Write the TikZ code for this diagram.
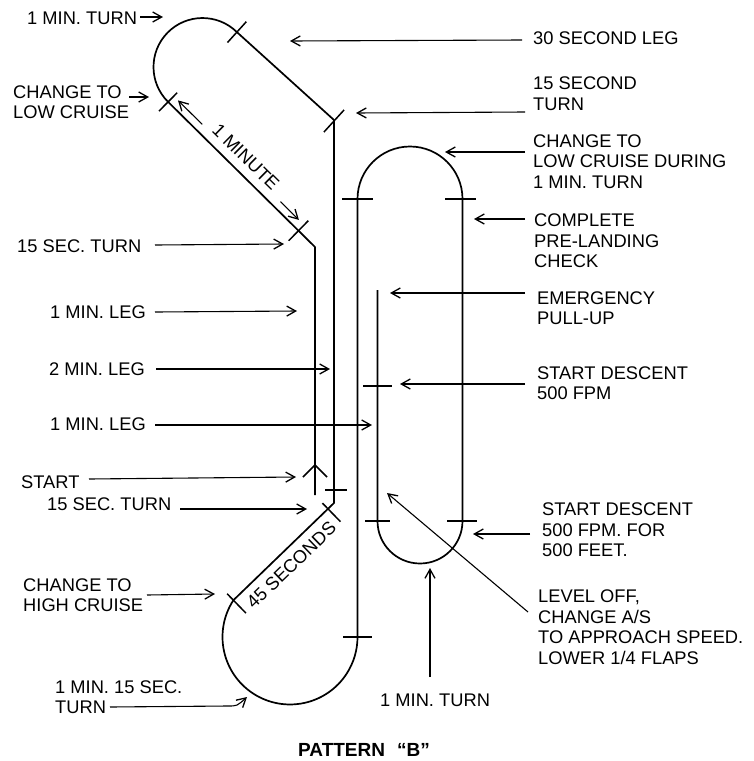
\documentclass[tikz,border=0pt]{standalone}
\usepackage{fontspec}
\setmainfont{Liberation Sans}
\usetikzlibrary{arrows.meta,calc}
\newcommand\lbfont{\fontsize{18.3}{20.5}\selectfont}
\begin{document}
\begin{tikzpicture}[x=1pt,y=1pt,
  track/.style={line width=1.7pt,line join=round},
  tickmark/.style={line width=1.5pt},
  lbl/.style={inner sep=0pt,anchor=west,align=left,font=\lbfont},
  ptr/.style={line width=1.1pt,-{Straight Barb[length=9pt,width=10pt,line width=1.3pt]}}]
\useasboundingbox (0,0) rectangle (753,-761);

% ---------------- flight path ----------------
\draw[track] (315,-495) -- (315,-247) -- (168.1,-101.9)
  arc[start angle=225.4,end angle=45.4,radius=49] -- (334,-120) -- (334,-503)
  -- (233.4,-600.2) arc[start angle=147,end angle=360,radius=67.5]
  -- (357.5,-199) arc[start angle=180,end angle=0,radius=52.5]
  -- (462.5,-521) arc[start angle=0,end angle=-180,radius=42.5]
  -- (377.5,-290);
% start chevron
\draw[track] (303,-477) -- (315,-465) -- (327,-477);

% horizontal ticks
\draw[tickmark] (325,-490) -- (347,-490);
\draw[tickmark] (342,-199) -- (373,-199);
\draw[tickmark] (445,-199) -- (476,-199);
\draw[tickmark] (363,-386) -- (392,-386);
\draw[tickmark] (365,-521) -- (390,-521);
\draw[tickmark] (447,-521) -- (477,-521);
\draw[tickmark] (343,-637) -- (372,-637);
% oblique ticks
\draw[tickmark] (227.5,-42.5) -- (246.3,-21.7);
\draw[tickmark] (323.9,-132.1) -- (344.1,-109.9);
\draw[tickmark] (159,-111.1) -- (177.2,-92.7);
\draw[tickmark] (288.7,-240.7) -- (308.3,-220.7);
\draw[tickmark] (322.4,-503.1) -- (340.5,-521.7);
\draw[tickmark] (227.1,-593.7) -- (245.9,-613.1);

% dimension labels
\coordinate (m1a) at (202.2,-124.3); \coordinate (m1b) at (178,-100.4);
\coordinate (m2a) at (280.4,-201.6); \coordinate (m2b) at (298.9,-219.9);
\draw[ptr] (m1a) -- (m1b);
\draw[ptr] (m2a) -- (m2b);
\node[font=\lbfont,rotate=-44.6,inner sep=0pt] (min1) at (245.8,-157.1) {1 MINUTE};
\node[font=\lbfont,rotate=44,inner sep=0pt] (sec45) at (291.3,-565.1) {45 SECONDS};

% ---------------- left labels ----------------
\node[lbl] (l1) at (27,-18) {1 MIN. TURN};
\node[lbl] (l2) at (13,-102) {CHANGE TO\\LOW CRUISE};
\node[lbl] (l3) at (17,-246) {15 SEC. TURN};
\node[lbl] (l4) at (50,-312) {1 MIN. LEG};
\node[lbl] (l5) at (49,-369) {2 MIN. LEG};
\node[lbl] (l6) at (50,-424) {1 MIN. LEG};
\node[lbl] (l7) at (21,-482) {START};
\node[lbl] (l8) at (47,-504) {15 SEC. TURN};
\node[lbl] (l9) at (23,-595) {CHANGE TO\\HIGH CRUISE};
\node[lbl] (l10) at (55,-697) {1 MIN. 15 SEC.\\TURN};

% ---------------- right labels ----------------
\node[lbl] (r1) at (533,-38) {30 SECOND LEG};
\node[lbl] (r2) at (533,-93.5) {15 SECOND\\TURN};
\node[lbl] (r3) at (533,-161.5) {CHANGE TO\\LOW CRUISE DURING\\1 MIN. TURN};
\node[lbl] (r4) at (534,-241) {COMPLETE\\PRE-LANDING\\CHECK};
\node[lbl] (r5) at (537,-308) {EMERGENCY\\PULL-UP};
\node[lbl] (r6) at (537,-383) {START DESCENT\\500 FPM};
\node[lbl] (r7) at (542,-530) {START DESCENT\\500 FPM. FOR\\500 FEET.};
\node[lbl] (r8) at (538,-627) {LEVEL OFF,\\CHANGE A/S\\TO APPROACH SPEED.\\LOWER 1/4 FLAPS};
\node[lbl] (b1) at (380,-700) {1 MIN. TURN};
\node[inner sep=0pt,anchor=west,font=\fontsize{19}{21}\selectfont\bfseries] (title) at (298,-750) {PATTERN\hspace{12pt}``B''};

% ---------------- pointer arrows ----------------
\coordinate (l1a) at (140,-17);  \coordinate (l1b) at (163,-17);
\coordinate (l2a) at (129,-97);  \coordinate (l2b) at (149,-97);
\coordinate (l3a) at (155,-245); \coordinate (l3b) at (284,-244);
\coordinate (l4a) at (155,-312); \coordinate (l4b) at (297,-311);
\coordinate (l5a) at (156,-369); \coordinate (l5b) at (330,-369);
\coordinate (l6a) at (155,-425); \coordinate (l6b) at (372,-425);
\coordinate (l7a) at (89,-479);  \coordinate (l7b) at (296,-477);
\coordinate (l8a) at (180,-509); \coordinate (l8b) at (307,-509);
\coordinate (l9a) at (147,-595); \coordinate (l9b) at (215,-594);
\coordinate (l10a) at (110,-707); \coordinate (l10b) at (247,-697);
\coordinate (r1a) at (522,-40);  \coordinate (r1b) at (290,-41);
\coordinate (r2a) at (525,-112); \coordinate (r2b) at (356,-113);
\coordinate (r3a) at (525,-152); \coordinate (r3b) at (445,-152);
\coordinate (r4a) at (525,-219); \coordinate (r4b) at (474,-219);
\coordinate (r5a) at (525,-293); \coordinate (r5b) at (390,-293);
\coordinate (r6a) at (525,-384); \coordinate (r6b) at (400,-384);
\coordinate (r7a) at (530,-534); \coordinate (r7b) at (473,-534);
\coordinate (r8a) at (528,-612); \coordinate (r8b) at (387,-493);
\coordinate (b1a) at (430,-677); \coordinate (b1b) at (430,-568);

\foreach \p in {l1,l2,l3,l4,l5,l6,l7,l8,l9,r1,r2,r3,r4,r5,r6,r7,r8,b1}
  \draw[ptr] (\p a) -- (\p b);
\draw[ptr] (l10a) -- (228,-706) .. controls (237,-706) .. (l10b);
\end{tikzpicture}
\end{document}
